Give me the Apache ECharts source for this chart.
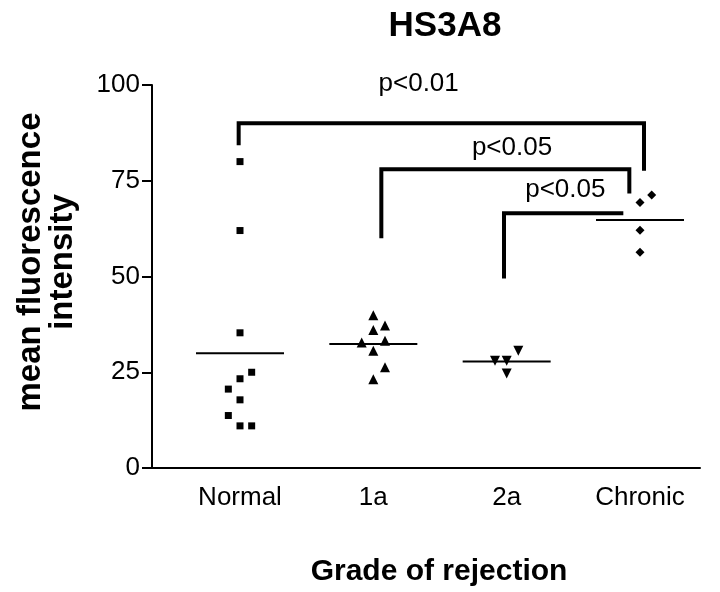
<!DOCTYPE html>
<html>
<head>
<meta charset="utf-8">
<script src="https://cdn.jsdelivr.net/npm/echarts@6/dist/echarts.min.js"></script>
<style>
html, body { margin: 0; padding: 0; background: #fff; }
#chart { width: 720px; height: 592px; }
</style>
</head>
<body>
<div id="chart"></div>
<script>
// ==========================================
// DATA
// ==========================================
const categories = ['Normal', '1a', '2a', 'Chronic'];

// values per group, with a jitter slot (-1 left, 0 centre, 1 right)
const normalValues = [80, 62, 35.3, 25, 23.3, 20.6, 17.8, 13.7, 11, 11];
const normalSlots  = [0, 0, 0, 1, 0, -1, 0, -1, 0, 1];
const gradeAValues = [39.9, 37.2, 36, 33.2, 32.8, 30.6, 26.3, 23.2];
const gradeASlots  = [0, 1, 0, 1, -1, 0, 1, 0];
const grade2Values = [30.6, 28, 28, 24.7];
const grade2Slots  = [1, -1, 0, 0];
const chronicValues = [71.3, 69.3, 62.1, 56.3];
const chronicSlots  = [1, 0, 0, 0];

const yTicks = [0, 25, 50, 75, 100];

// significance brackets: [left x, right x], top, [left leg end, right leg end]
const bracketX = [[0.99, 4.03], [2.06, 3.92], [2.98, 3.875]];
const bracketTop = [90, 78, 66.5];
const bracketLegs = [[84.3, 77.6], [60, 71.7], [49.5, null]];
const pLabels = ['p<0.01', 'p<0.05', 'p<0.05'];
const pLabelAt = [[2.34, 100.3], [3.04, 83.5], [3.44, 72.6]];

// ==========================================
// BUILD SERIES
// ==========================================
const JITTER = 0.0875;
const MEAN_HALF = 0.33;
const FONT = '"Liberation Sans", Arial, sans-serif';

const groups = [
  { values: normalValues, slots: normalSlots, symbol: 'rect', size: 7, rotate: 0 },
  { values: gradeAValues, slots: gradeASlots, symbol: 'triangle', size: 10, rotate: 0 },
  { values: grade2Values, slots: grade2Slots, symbol: 'triangle', size: 10, rotate: 180 },
  { values: chronicValues, slots: chronicSlots, symbol: 'diamond', size: 9, rotate: 0 }
];

const series = [];

groups.forEach((g, i) => {
  const cx = i + 1;
  series.push({
    type: 'scatter',
    symbol: g.symbol,
    symbolSize: g.size,
    symbolRotate: g.rotate,
    itemStyle: { color: '#000', opacity: 1 },
    data: g.values.map((v, k) => [cx + g.slots[k] * JITTER, v]),
    z: 3
  });
  const mean = g.values.reduce((a, b) => a + b, 0) / g.values.length;
  series.push({
    type: 'line',
    symbol: 'none',
    silent: true,
    lineStyle: { color: '#000', width: 2 },
    data: [[cx - MEAN_HALF, mean], [cx + MEAN_HALF, mean]],
    z: 2
  });
});

bracketX.forEach((bx, i) => {
  const pts = [[bx[0], bracketLegs[i][0]], [bx[0], bracketTop[i]], [bx[1], bracketTop[i]]];
  if (bracketLegs[i][1] !== null) pts.push([bx[1], bracketLegs[i][1]]);
  series.push({
    type: 'line',
    symbol: 'none',
    silent: true,
    lineStyle: { color: '#000', width: 4, cap: 'butt', join: 'miter' },
    data: pts,
    z: 2
  });
});

// p-value texts (scatter labels default to 0.8 opacity, so force 1)
series.push({
  type: 'scatter',
  symbolSize: 0,
  clip: false,
  silent: true,
  itemStyle: { color: '#000', opacity: 1 },
  label: {
    show: true,
    position: 'inside',
    formatter: p => pLabels[p.dataIndex],
    color: '#000',
    opacity: 1,
    textBorderWidth: 0,
    fontSize: 26,
    fontFamily: FONT
  },
  data: pLabelAt
});

// ==========================================
// CHART
// ==========================================
const chart = echarts.init(document.getElementById('chart'), null, { renderer: 'canvas' });

const option = {
  backgroundColor: '#fff',
  animation: false,
  title: {
    text: 'HS3A8',
    left: 440,
    top: 4,
    textAlign: 'center',
    textStyle: { fontSize: 35, fontWeight: 'bold', color: '#000', fontFamily: FONT }
  },
  grid: { left: 152, right: 20, top: 85, bottom: 124 },
  xAxis: {
    type: 'value',
    min: 0.34,
    max: 4.45,
    axisLine: { lineStyle: { color: '#000', width: 2 } },
    axisTick: { show: false },
    splitLine: { show: false },
    axisLabel: {
      customValues: [1, 2, 3, 4],
      formatter: v => categories[Math.round(v) - 1],
      color: '#000',
      fontSize: 26,
      fontFamily: FONT,
      margin: 17
    }
  },
  yAxis: {
    type: 'value',
    min: 0,
    max: 100,
    interval: 25,
    axisLine: { show: true, lineStyle: { color: '#000', width: 2 } },
    axisTick: { show: true, length: 10, lineStyle: { color: '#000', width: 2 }, customValues: yTicks },
    splitLine: { show: false },
    axisLabel: {
      customValues: yTicks,
      color: '#000',
      fontSize: 26,
      fontFamily: FONT,
      margin: 12
    }
  },
  graphic: [
    {
      type: 'text',
      x: 47,
      y: 262,
      rotation: Math.PI / 2,
      style: {
        text: 'mean fluorescence\nintensity',
        fontSize: 33,
        fontWeight: 'bold',
        fontFamily: FONT,
        fill: '#000',
        align: 'center',
        verticalAlign: 'middle',
        lineHeight: 32
      }
    },
    {
      type: 'text',
      x: 439,
      y: 572,
      style: {
        text: 'Grade of rejection',
        fontSize: 30,
        fontWeight: 'bold',
        fontFamily: FONT,
        fill: '#000',
        align: 'center',
        verticalAlign: 'middle'
      }
    }
  ],
  series: series
};

chart.setOption(option);
</script>
</body>
</html>
